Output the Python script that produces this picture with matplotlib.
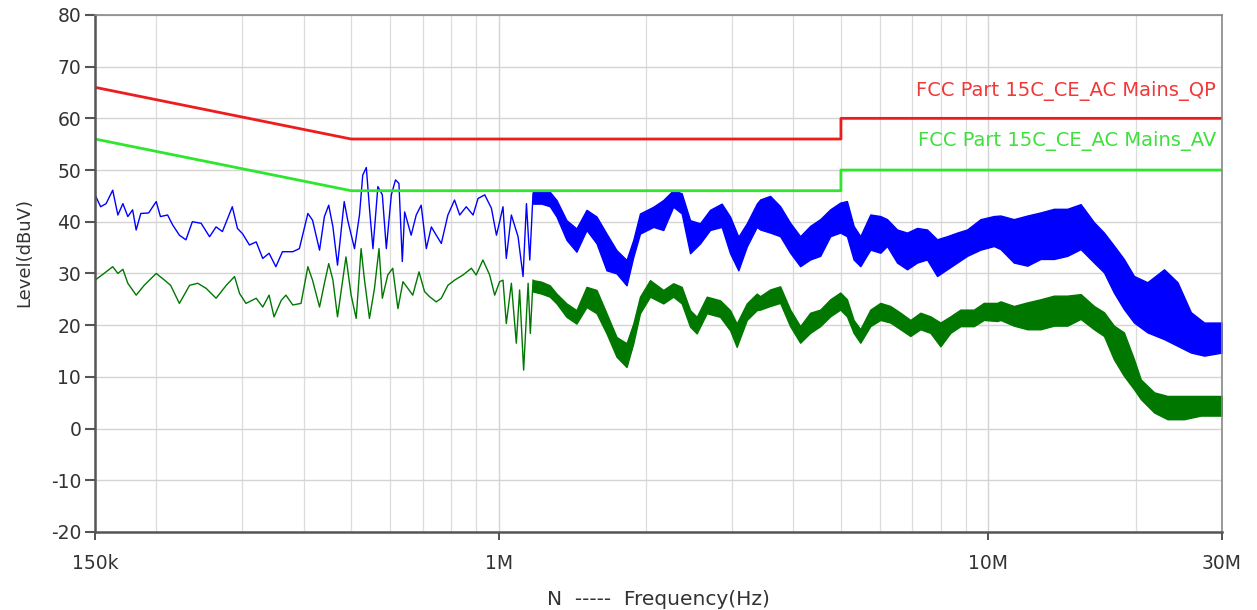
import matplotlib
matplotlib.use("Agg")
import matplotlib.pyplot as plt
from matplotlib.ticker import FixedLocator, LogLocator, NullFormatter

# Limit lines (frequency in MHz, level in dBuV)
limit_freq = [0.15, 0.5, 5, 5, 30]
limit_qp = [66, 56, 56, 60, 60]
limit_av = [56, 46, 46, 50, 50]

# Peak trace (blue): low-frequency part read as a line
peak_line_f = [0.150, 0.154, 0.158, 0.163, 0.167, 0.171, 0.175, 0.179, 0.182, 0.186,
               0.193, 0.200, 0.204, 0.211, 0.216, 0.223, 0.230, 0.237, 0.247, 0.257,
               0.265, 0.273, 0.286, 0.293, 0.300, 0.310, 0.320, 0.330, 0.340, 0.351,
               0.362, 0.380, 0.392, 0.408, 0.417, 0.431, 0.441, 0.450, 0.459, 0.469,
               0.484, 0.492, 0.508, 0.520, 0.528, 0.537, 0.545, 0.554, 0.567, 0.579,
               0.590, 0.604, 0.616, 0.626, 0.636, 0.643, 0.663, 0.679, 0.695, 0.712,
               0.729, 0.746, 0.764, 0.788, 0.813, 0.833, 0.859, 0.887, 0.908, 0.937,
               0.967, 0.990, 1.005, 1.021, 1.037, 1.062, 1.096, 1.122, 1.140, 1.158,
               1.176]
peak_line_v = [45.2, 42.9, 43.5, 46.1, 41.3, 43.5, 41.0, 42.3, 38.4, 41.6,
               41.7, 43.9, 41.0, 41.3, 39.4, 37.4, 36.5, 40.0, 39.7, 37.1,
               39.0, 38.1, 42.9, 38.7, 37.7, 35.5, 36.1, 32.9, 33.9, 31.3,
               34.2, 34.2, 34.8, 41.6, 40.3, 34.5, 41.0, 43.2, 39.0, 31.6,
               43.9, 40.3, 34.8, 41.3, 49.0, 50.5, 42.6, 34.8, 46.8, 45.2,
               34.8, 45.2, 48.1, 47.4, 32.3, 41.9, 37.4, 41.3, 43.2, 34.8,
               39.0, 37.4, 35.8, 41.3, 44.2, 41.3, 42.9, 41.3, 44.5, 45.2,
               42.6, 37.4, 40.0, 42.9, 32.9, 41.3, 37.1, 29.4, 43.5, 32.6,
               45.5]

# Peak trace (blue): high-frequency part read as a band (low / high edge)
peak_band_f = [1.176, 1.223, 1.272, 1.313, 1.376, 1.442, 1.512, 1.585, 1.661, 1.741,
               1.825, 1.884, 1.944, 2.070, 2.169, 2.273, 2.365, 2.460, 2.578, 2.702,
               2.854, 2.969, 3.087, 3.212, 3.366, 3.420, 3.584, 3.757, 3.938, 4.128,
               4.327, 4.536, 4.755, 4.984, 5.143, 5.307, 5.477, 5.741, 6.018, 6.210,
               6.509, 6.823, 7.153, 7.494, 7.857, 8.235, 8.634, 9.050, 9.637, 10.26,
               10.59, 11.27, 12.01, 12.78, 13.61, 14.49, 15.43, 16.43, 17.22, 18.04,
               18.91, 19.83, 21.12, 22.84, 24.33, 25.91, 27.58, 30.0]
peak_band_lo = [43.5, 43.5, 43.0, 41.0, 36.5, 34.2, 38.4, 35.8, 30.6, 30.0,
                27.7, 33.2, 37.7, 39.0, 38.4, 42.9, 41.6, 33.9, 35.8, 38.4,
                39.0, 33.9, 30.6, 35.2, 39.0, 38.5, 37.9, 37.2, 34.0, 31.4,
                32.7, 33.4, 37.2, 37.9, 37.2, 32.7, 31.4, 34.6, 34.0, 35.3,
                32.1, 30.8, 32.1, 32.7, 29.5, 30.8, 32.1, 33.4, 34.6, 35.3,
                34.7, 32.1, 31.5, 32.8, 32.8, 33.4, 34.7, 32.1, 30.2, 26.3,
                23.1, 20.5, 18.6, 17.3, 16.0, 14.7, 14.1, 14.7]
peak_band_hi = [45.8, 45.8, 45.8, 44.2, 40.3, 38.7, 42.3, 41.0, 37.7, 34.5,
                32.6, 36.5, 41.6, 42.9, 44.2, 46.1, 45.5, 40.3, 39.7, 42.3,
                43.5, 41.0, 37.1, 39.7, 43.5, 44.3, 45.0, 43.0, 39.8, 37.2,
                39.2, 40.5, 42.4, 43.7, 44.0, 39.2, 37.2, 41.4, 41.1, 40.5,
                38.5, 37.9, 38.8, 38.5, 36.6, 37.2, 37.9, 38.5, 40.5, 41.1,
                41.2, 40.5, 41.2, 41.8, 42.5, 42.5, 43.4, 39.9, 37.9, 35.4,
                32.8, 29.5, 28.3, 30.8, 28.3, 22.5, 20.5, 20.5]

# Average trace (green): low-frequency part
avg_line_f = [0.150, 0.155, 0.163, 0.167, 0.171, 0.175, 0.182, 0.189, 0.200, 0.208,
              0.214, 0.223, 0.234, 0.243, 0.253, 0.265, 0.278, 0.289, 0.296, 0.305,
              0.320, 0.330, 0.340, 0.348, 0.360, 0.368, 0.380, 0.395, 0.408, 0.417,
              0.431, 0.441, 0.450, 0.459, 0.469, 0.488, 0.500, 0.512, 0.524, 0.532,
              0.545, 0.558, 0.570, 0.579, 0.594, 0.608, 0.623, 0.638, 0.653, 0.668,
              0.688, 0.706, 0.723, 0.746, 0.764, 0.788, 0.813, 0.846, 0.880, 0.900,
              0.929, 0.959, 0.982, 1.005, 1.021, 1.037, 1.062, 1.087, 1.104, 1.125,
              1.149, 1.161, 1.176]
avg_line_v = [28.7, 29.7, 31.3, 30.0, 30.8, 28.1, 25.8, 27.7, 30.0, 28.7,
              27.7, 24.2, 27.7, 28.1, 27.1, 25.2, 27.7, 29.4, 26.1, 24.2,
              25.2, 23.5, 25.8, 21.6, 24.8, 25.8, 23.9, 24.2, 31.3, 28.7,
              23.5, 28.1, 31.9, 28.7, 21.6, 33.2, 25.8, 21.3, 34.8, 29.0,
              21.3, 27.1, 34.8, 25.2, 29.7, 31.0, 23.2, 28.4, 27.1, 25.8,
              30.3, 26.5, 25.5, 24.5, 25.2, 27.7, 28.7, 29.7, 31.0, 29.7,
              32.6, 29.7, 25.8, 28.4, 28.7, 20.3, 28.1, 16.5, 26.8, 11.3,
              28.1, 18.4, 28.7]

# Average trace (green): high-frequency band
avg_band_f = [1.176, 1.223, 1.272, 1.313, 1.376, 1.442, 1.512, 1.585, 1.661, 1.741,
              1.825, 1.884, 1.944, 2.038, 2.169, 2.273, 2.365, 2.460, 2.538, 2.661,
              2.833, 2.969, 3.063, 3.212, 3.366, 3.420, 3.584, 3.757, 3.938, 4.128,
              4.327, 4.536, 4.755, 4.984, 5.143, 5.307, 5.477, 5.741, 6.018, 6.307,
              6.612, 6.930, 7.263, 7.614, 7.981, 8.365, 8.769, 9.339, 9.789, 10.42,
              10.59, 11.27, 12.01, 12.78, 13.61, 14.49, 15.43, 16.43, 17.22, 18.04,
              18.91, 19.83, 20.47, 21.80, 23.21, 25.10, 27.14, 30.0]
avg_band_lo = [26.5, 26.1, 25.5, 24.2, 21.6, 20.3, 23.5, 22.3, 18.4, 13.9,
               11.9, 16.5, 22.3, 25.5, 24.2, 25.5, 24.2, 19.7, 18.4, 22.3,
               21.6, 19.0, 15.8, 21.0, 22.9, 23.0, 23.7, 24.3, 19.8, 16.6,
               18.5, 19.8, 21.7, 23.0, 21.7, 18.5, 16.6, 19.8, 21.0, 20.5,
               19.2, 17.9, 19.2, 18.5, 15.9, 18.5, 19.8, 19.8, 21.0, 20.8,
               21.0, 19.9, 19.2, 19.2, 19.9, 19.9, 21.2, 19.2, 17.9, 13.4,
               10.2, 7.6, 5.7, 3.1, 1.8, 1.8, 2.5, 2.5]
avg_band_hi = [28.7, 28.4, 27.7, 26.1, 24.2, 22.9, 27.4, 26.8, 22.3, 17.7,
               16.5, 20.3, 25.5, 28.7, 26.8, 28.1, 27.4, 22.9, 21.6, 25.5,
               24.8, 22.9, 20.3, 24.2, 26.1, 25.6, 26.9, 27.5, 23.0, 19.8,
               22.4, 23.0, 25.0, 26.3, 25.0, 21.0, 19.2, 23.0, 24.3, 23.7,
               22.4, 21.0, 22.4, 21.7, 20.5, 21.7, 23.0, 23.0, 24.3, 24.3,
               24.6, 23.7, 24.4, 25.0, 25.7, 25.7, 26.0, 23.7, 22.5, 19.9,
               18.6, 13.4, 9.5, 7.0, 6.3, 6.3, 6.3, 6.3]

x_ticks = [0.15, 1, 10, 30]
x_tick_labels = ["150k", "1M", "10M", "30M"]
y_ticks = list(range(-20, 90, 10))


def main():
    plt.rcParams["font.family"] = ["DejaVu Sans"]
    plt.rcParams["axes.unicode_minus"] = False
    fig = plt.figure(figsize=(12.57, 6.10), dpi=100)
    ax = fig.add_axes([0.0756, 0.128, 0.8966, 0.8475])

    blue = "#0000ff"
    green = "#007800"

    ax.plot(peak_line_f, peak_line_v, color=blue, lw=1.0)
    ax.fill_between(peak_band_f, peak_band_lo, peak_band_hi, color=blue, lw=1.0)
    ax.plot(avg_line_f, avg_line_v, color=green, lw=1.0)
    ax.fill_between(avg_band_f, avg_band_lo, avg_band_hi, color=green, lw=1.0)

    ax.plot(limit_freq, limit_qp, color="#ee1c1c", lw=2.0)
    ax.plot(limit_freq, limit_av, color="#2ee62e", lw=2.0)

    ax.text(0.9947, 65.3, "FCC Part 15C_CE_AC Mains_QP", color="#f03838",
            fontsize=14, ha="right", va="center",
            transform=ax.get_yaxis_transform())
    ax.text(0.9947, 55.6, "FCC Part 15C_CE_AC Mains_AV", color="#3ee03e",
            fontsize=14, ha="right", va="center",
            transform=ax.get_yaxis_transform())

    ax.set_xscale("log")
    ax.set_xlim(0.15, 30)
    ax.set_ylim(-20, 80)
    ax.xaxis.set_major_locator(FixedLocator(x_ticks))
    ax.set_xticklabels(x_tick_labels)
    ax.xaxis.set_minor_locator(LogLocator(base=10, subs=range(2, 10)))
    ax.xaxis.set_minor_formatter(NullFormatter())
    ax.set_yticks(y_ticks)

    ax.grid(True, which="major", color="#d4d4d4", lw=1.0)
    ax.grid(True, which="minor", axis="x", color="#dcdcdc", lw=0.9)
    ax.set_axisbelow(True)

    ax.tick_params(axis="y", which="major", length=7, width=1.5, color="#555555",
                   labelsize=13.5, labelcolor="#333333", pad=3)
    ax.tick_params(axis="x", which="major", length=6, width=1.2, color="#333333",
                   labelsize=13.5, labelcolor="#333333", pad=10)
    ax.tick_params(axis="x", which="minor", length=0)

    for side in ["left", "bottom"]:
        ax.spines[side].set_color("#555555")
        ax.spines[side].set_linewidth(1.8)
    for side in ["top", "right"]:
        ax.spines[side].set_color("#888888")
        ax.spines[side].set_linewidth(1.2)

    ax.set_ylabel("Level(dBuV)", fontsize=13, color="#333333")
    ax.yaxis.set_label_coords(-0.055, 0.54)
    ax.set_xlabel("N  -----  Frequency(Hz)", fontsize=14.5, color="#333333", labelpad=12)

    fig.savefig("out.png", dpi=100)
    plt.close(fig)


if __name__ == "__main__":
    main()
